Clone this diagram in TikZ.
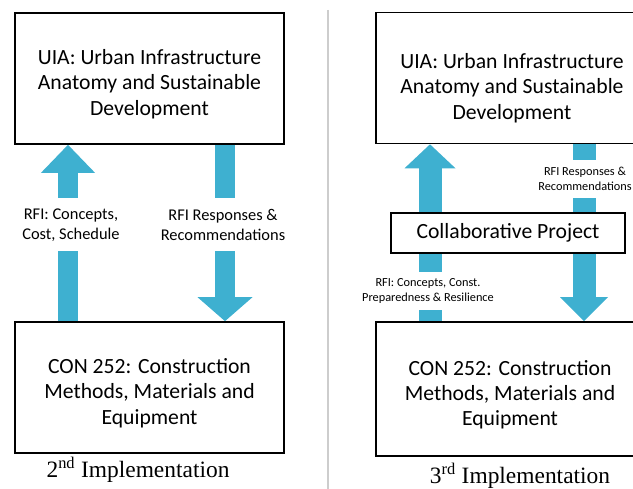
\documentclass[tikz,border=0pt]{standalone}
\usepackage{fontspec}
\setmainfont{Carlito}
\newfontfamily\capfont{Liberation Serif}
\usetikzlibrary{arrows.meta}
\definecolor{rfiblue}{RGB}{62,176,208}
\definecolor{divgray}{RGB}{205,205,205}
\newcommand{\lift}[1]{\rule{0pt}{#1}}

\begin{document}
\begin{tikzpicture}[x=0.03cm, y=-0.03cm,
  course/.style={draw, line width=1.4pt, minimum width=#1, minimum height=3.93cm, align=center, inner sep=0pt, font=\fontsize{18.5}{21.5}\selectfont},
  arr/.style n args={3}{color=rfiblue, line width=#1, -{Triangle[width=#2, length=#3, line width=0pt]}},
  shaft/.style={color=rfiblue, line width=#1},
  note/.style={fill=white, align=center, inner sep=1pt, minimum height=#1},
  caption/.style={font=\capfont\fontsize{20}{24}\selectfont}]
  \useasboundingbox (0,0) rectangle (633,489);
  \draw[divgray, line width=1.5pt] (328,10) -- (328,489);
  % 2nd implementation
  \node[course=8.07cm] (uia2) at (149.5,78.5) {\lift{22.5pt}UIA: Urban Infrastructure\\Anatomy and Sustainable\\Development};
  \node[course=8.07cm] (con2) at (149.5,387.5) {\lift{22.5pt}CON 252: Construction\\Methods, Materials and\\Equipment};
  \coordinate (up2) at (68,0);
  \coordinate (down2) at (225,0);
  \draw[arr={0.6cm}{1.62cm}{0.84cm}] (con2.north -| up2) -- (uia2.south -| up2);
  \draw[arr={0.6cm}{1.65cm}{0.72cm}] (uia2.south -| down2) -- (con2.north -| down2);
  \node[note=1.59cm, font=\fontsize{14}{17}\selectfont] (ask2) at (71,225) {RFI: Concepts,\\Cost, Schedule};
  \node[note=1.59cm, font=\fontsize{14}{17}\selectfont] (reply2) at (223,225) {RFI Responses \&\\Recommendations};
  \node[caption] (cap2) at (138,470) {2\textsuperscript{nd} Implementation};
  % 3rd implementation
  \node[course=8.16cm] (uia3) at (512,78) {\lift{30pt}UIA: Urban Infrastructure\\Anatomy and Sustainable\\Development};
  \node[course=8.04cm, minimum height=4.02cm] (con3) at (510,389) {\lift{22.5pt}CON 252: Construction\\Methods, Materials and\\Equipment};
  \node[draw, line width=1.4pt, minimum width=7.02cm, minimum height=1.2cm, font=\fontsize{18.5}{21.5}\selectfont] (collab) at (508,233) {Collaborative Project};
  \coordinate (up3) at (430,0);
  \coordinate (down3) at (584,0);
  \draw[shaft=0.69cm] (con3.north -| up3) -- (collab.south -| up3);
  \draw[arr={0.69cm}{1.53cm}{0.72cm}] (collab.north -| up3) -- (uia3.south -| up3);
  \draw[shaft=0.69cm] (uia3.south -| down3) -- (collab.north -| down3);
  \draw[arr={0.69cm}{1.44cm}{0.72cm}] (collab.south -| down3) -- (con3.north -| down3);
  \node[note=1.14cm, font=\fontsize{10.5}{12.8}\selectfont] (reply3) at (585,179) {RFI Responses \&\\Recommendations};
  \node[note=1.14cm, font=\fontsize{10.5}{12.8}\selectfont] (ask3) at (428,291) {RFI: Concepts, Const.\\Preparedness \& Resilience};
  \node[caption] (cap3) at (520,476) {3\textsuperscript{rd} Implementation};
\end{tikzpicture}
\end{document}
